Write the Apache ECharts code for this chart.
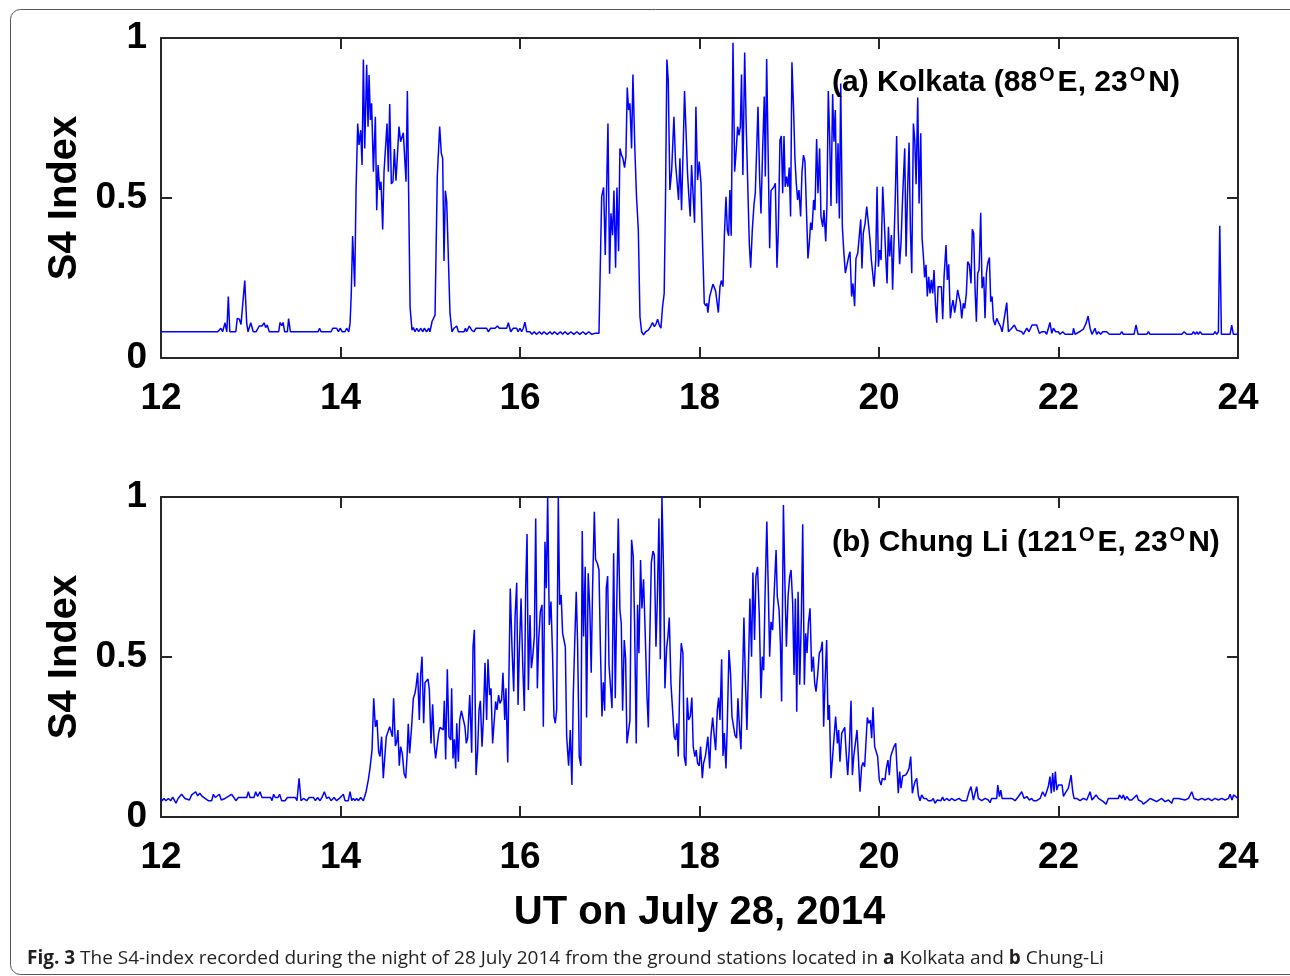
<!DOCTYPE html>
<html>
<head>
    <meta charset="utf-8">
    <script src="https://cdn.jsdelivr.net/npm/echarts@6/dist/echarts.min.js"></script>
    <style>
        body { margin: 0; background: #fff; }
    </style>
</head>
<body>
<div id="main" style="width: 1290px;height:976px;"></div>

<script type="text/javascript">
    // x ticks (UT hours) and y ticks
    var xTicks = [12, 14, 16, 18, 20, 22, 24];
    var yTicks = [0, 0.5, 1];

    // (a) Kolkata: minutes after 12:00 UT and S4 index
    var kolMin = [
        0,38,40,41.2,42.8,44,45,46,50,51,
        52.4,53.5,54.6,56,57.3,58.2,60,61.7,63.5,65.7,
        67.5,68.9,70,71,72.4,78.7,79.6,80.7,81.6,82.7,
        84.5,85.3,86.5,105,106,107,113.7,114.8,117.4,118.6,
        119.7,121.2,123,124.1,125.5,126.4,127.2,128.1,129.5,130.4,
        131.5,132.4,133.5,134.4,135.3,136.2,137.5,138.4,139.1,140,
        140.8,142,143.3,144.2,145.1,146.2,147.1,148.2,149.1,150.2,
        151.1,152,152.9,154,155.1,156,157.1,158,159.1,160.2,
        161.1,162,163.8,164.7,166.5,167.8,168.7,169.8,171,172.3,
        173.6,175,176,177.6,179,179.8,181.2,183.2,184.7,186.3,
        187.4,188.3,189.2,190.1,191,193.2,194.5,195.9,197.7,198.8,
        202.6,203.5,204.3,206.1,207.7,209.2,210.6,217.7,218.8,220.4,
        223.3,224.9,226.2,231.1,232.2,233.8,235.5,237.8,238.7,240,
        241.1,242.2,243.3,244.5,246.7,248,249.5,251,253,254.5,
        256,258,260,261.5,263,265,267,268.5,270,272,
        274,276,278,280,282,284,286,288,290,292.8,
        293.2,294.6,295.9,297,298.8,299.9,300.8,301.9,302.8,303.9,
        304.8,305.9,306.8,307.9,308.8,309.9,310.8,311.7,312.6,313.5,
        314.6,315.5,316.8,317.9,319.1,320.2,321.3,322.6,324,325.8,
        327.3,328.6,329.8,330.9,332,333.1,334.2,335.3,336.4,337.3,
        338.2,339.1,340.2,341.4,342,342.9,344,345.1,346,346.9,
        348,349.1,350,351.2,352,352.9,353.8,354.7,355.8,356.7,
        357.6,358.7,359.8,361,362.1,363.2,364.3,365,365.6,366.8,
        367.9,369,369.9,370.8,371.7,372.6,373.7,374.6,375.7,376.6,
        377.7,378.6,379.5,380.3,381.2,382.4,383.5,384.4,385.5,386.4,
        387.3,388.1,389,390.2,391.3,392.4,393.3,394.2,395.3,396.4,
        397.3,398.2,399.1,400.2,401.1,402.2,403.3,404,404.9,406,
        406.9,407.8,408.9,409.8,410.7,411.8,412.7,413.8,414.7,415.6,
        416.5,417.3,418.2,419.1,420,420.9,421.8,422.9,423.8,424.7,
        425.6,426.5,427.6,428.5,429.5,430.5,431.7,432.5,433.4,434.3,
        435.2,436.3,437.2,438.3,439.2,440.3,441.2,442.4,443.2,444.4,
        445.2,446.1,447,447.9,449,449.9,450.8,451.7,452.6,453.5,
        454.4,455.5,456.4,457.5,458.6,459.7,460.6,461.7,462.6,463.7,
        464.6,465.8,466.6,467.8,468.6,469.5,470.7,471.8,472.9,474,
        474.9,475.8,476.7,477.8,478.7,479.6,480.5,481.4,482.5,483.4,
        484.5,485.4,486.3,487.1,488.3,489.1,490,490.9,491.8,492.9,
        493.8,494.7,495.8,497.2,498.1,499,500.1,501,501.9,503,
        503.9,504.8,505.9,506.8,507.9,508.8,509.7,510.5,511.4,512.3,
        513.2,514.1,515,515.9,516.8,517.7,518.6,519.5,520.3,521.7,
        522.6,523.5,524.8,525.7,526.6,527.7,528.6,529.5,530.6,531.5,
        532.6,533.5,534.4,535.3,536.4,537.3,538.4,539.3,540.4,541.5,
        542.4,543.3,544.2,545.1,546,546.9,548,548.9,550,550.9,
        551.8,552.7,553.8,554.7,555.6,556.5,557.6,558.7,560,561.3,
        562.3,563.6,565.4,566.5,568.7,570.5,572.1,575.4,576.5,578.8,
        580.3,582.3,585.4,587.2,588.8,591,592.1,594.3,595.5,596.6,
        598.1,599.9,601,602.8,604.4,609.5,610,611.1,614,616.6,
        618.4,619.8,621.1,622.4,624.4,625.5,626.7,628.2,629.6,632.2,
        634,641.1,642.3,643.4,650.5,651.8,653.2,659,660.1,661.2,
        682.4,684,685.7,689.1,690.2,691.5,692.4,693.5,694.6,696,
        703.5,704.7,705.8,706.9,707.8,708.9,714.7,715.8,716.9,720
    ];
    var kolS4 = [
        0.082,0.082,0.093,0.082,0.110,0.082,0.192,0.082,0.082,0.124,
        0.121,0.105,0.110,0.242,0.108,0.082,0.110,0.082,0.082,0.100,
        0.100,0.110,0.095,0.103,0.082,0.082,0.111,0.101,0.111,0.082,
        0.082,0.123,0.082,0.082,0.093,0.082,0.082,0.093,0.093,0.082,
        0.093,0.082,0.082,0.093,0.082,0.108,0.202,0.381,0.223,0.525,
        0.733,0.666,0.712,0.603,0.933,0.655,0.916,0.723,0.884,0.744,
        0.796,0.582,0.754,0.462,0.603,0.525,0.551,0.402,0.582,0.577,
        0.733,0.582,0.794,0.544,0.551,0.653,0.554,0.629,0.723,0.676,
        0.671,0.704,0.551,0.834,0.160,0.087,0.095,0.082,0.093,0.082,
        0.093,0.082,0.093,0.082,0.093,0.082,0.114,0.134,0.567,0.723,
        0.640,0.624,0.303,0.523,0.489,0.140,0.082,0.093,0.100,0.082,
        0.082,0.093,0.082,0.100,0.087,0.082,0.093,0.093,0.082,0.093,
        0.093,0.100,0.093,0.093,0.110,0.082,0.093,0.093,0.082,0.093,
        0.082,0.093,0.112,0.082,0.082,0.074,0.082,0.074,0.082,0.074,
        0.082,0.074,0.082,0.074,0.082,0.074,0.082,0.074,0.082,0.074,
        0.082,0.074,0.082,0.074,0.082,0.074,0.082,0.074,0.077,0.077,
        0.082,0.504,0.533,0.322,0.733,0.263,0.452,0.384,0.523,0.282,
        0.533,0.334,0.655,0.634,0.624,0.595,0.629,0.845,0.775,0.796,
        0.655,0.886,0.650,0.504,0.400,0.129,0.082,0.072,0.082,0.087,
        0.098,0.111,0.098,0.106,0.121,0.103,0.093,0.160,0.202,0.504,
        0.933,0.869,0.525,0.587,0.593,0.754,0.608,0.546,0.494,0.624,
        0.462,0.660,0.834,0.681,0.577,0.504,0.442,0.603,0.504,0.423,
        0.785,0.556,0.614,0.546,0.348,0.171,0.163,0.171,0.142,0.192,
        0.192,0.231,0.231,0.209,0.213,0.142,0.223,0.242,0.223,0.379,
        0.504,0.400,0.382,0.525,0.382,0.985,0.582,0.640,0.723,0.696,
        0.723,0.886,0.572,0.955,0.712,0.515,0.358,0.282,0.400,0.478,
        0.515,0.515,0.785,0.561,0.452,0.650,0.817,0.567,0.934,0.608,
        0.343,0.523,0.525,0.535,0.546,0.282,0.400,0.681,0.694,0.515,
        0.694,0.535,0.567,0.535,0.595,0.442,0.924,0.775,0.624,0.546,
        0.494,0.525,0.442,0.580,0.634,0.614,0.614,0.311,0.358,0.423,
        0.400,0.494,0.462,0.684,0.515,0.655,0.442,0.410,0.462,0.364,
        0.478,0.834,0.692,0.475,0.825,0.676,0.775,0.483,0.671,0.436,
        0.858,0.410,0.337,0.265,0.265,0.317,0.332,0.192,0.233,0.162,
        0.311,0.327,0.332,0.433,0.280,0.390,0.421,0.473,0.473,0.369,
        0.306,0.306,0.223,0.306,0.535,0.285,0.337,0.306,0.535,0.442,
        0.317,0.233,0.410,0.317,0.384,0.213,0.358,0.504,0.694,0.400,
        0.293,0.358,0.504,0.655,0.317,0.504,0.673,0.400,0.265,0.733,
        0.681,0.543,0.814,0.483,0.702,0.374,0.317,0.252,0.291,0.192,
        0.254,0.202,0.244,0.202,0.275,0.171,0.110,0.223,0.223,0.223,
        0.121,0.254,0.353,0.244,0.293,0.124,0.160,0.181,0.142,0.171,
        0.213,0.192,0.173,0.124,0.171,0.155,0.202,0.301,0.291,0.233,
        0.402,0.390,0.218,0.113,0.265,0.275,0.454,0.218,0.254,0.124,
        0.265,0.296,0.314,0.176,0.192,0.119,0.103,0.124,0.110,0.098,
        0.082,0.087,0.173,0.082,0.093,0.103,0.087,0.082,0.074,0.093,
        0.082,0.103,0.103,0.077,0.082,0.082,0.074,0.111,0.077,0.093,
        0.082,0.082,0.074,0.082,0.074,0.074,0.093,0.074,0.082,0.090,
        0.108,0.131,0.093,0.074,0.093,0.074,0.082,0.074,0.082,0.082,
        0.074,0.074,0.082,0.074,0.074,0.103,0.074,0.074,0.082,0.074,
        0.074,0.082,0.074,0.074,0.082,0.074,0.082,0.074,0.082,0.074,
        0.074,0.082,0.074,0.082,0.413,0.074,0.074,0.103,0.074,0.074
    ];

    // (b) Chung Li: minutes after 12:00 UT and S4 index
    var chuMin = [
        0,0.7,2,3.3,4.9,6.5,7.8,9.1,10,11.4,
        13.8,16,19,20.5,23.2,24.5,25.9,27.2,29.4,31.6,
        33.9,35,36.3,39,40.3,42.8,47.2,50.1,51.7,57.3,
        58.4,59.5,62.2,63.3,64.6,66.2,67.5,73.3,74.2,75.3,
        76.4,78.2,79.3,80.7,82.9,84.5,89.8,90.9,92.3,93.6,
        95.2,97.4,99,101.9,103.2,104.7,106.3,107.9,109.2,110.8,
        112.3,113.7,115.7,117.4,119.2,121.9,123,125.2,126.4,127.5,
        128.6,129.7,130.8,131.9,133.5,135.3,137.1,138.6,139.7,141.1,
        142.2,143.3,144.4,145.5,146.4,147.5,148.6,149.8,150.6,151.8,
        152.9,154,154.7,155.5,156.7,157.6,158.4,159.3,160.2,161.3,
        162.5,163.6,164.5,165.3,166.2,167.4,168.7,169.8,170.5,171.6,
        172.7,173.6,174.5,175.6,176.5,177.6,178.5,179.4,180.5,181.6,
        182.7,183.6,184.7,185.6,186.5,187.6,188.7,189.4,190.3,191.4,
        192.5,193.7,194.3,195.2,196.1,197,197.7,198.8,199.7,200.8,
        202.1,203.2,204.1,205,206.4,207.7,208.6,209.5,210.6,211.7,
        212.6,213.5,214.6,215.5,216.6,217.7,218.6,219.7,220.6,221.7,
        222.8,223.7,224.6,225.7,226.6,227.7,228.6,229.8,230.6,231.8,
        232.6,233.5,234.7,235.8,236.7,237.8,238.7,239.5,240.7,241.8,
        242.9,243.8,244.7,245.6,246.7,247.6,248.5,249.6,250.5,251.6,
        252.5,253.6,254.7,255.6,256.7,257.6,258.5,259.6,260.7,261.8,
        262.7,263.6,264.5,265.6,266.5,267.5,268.5,269.4,270.3,271.2,
        272.5,273.6,274.7,275.6,276.5,277.6,278.5,279.6,280.7,281.6,
        282.5,283.6,284.5,285.6,286.7,287.6,288.5,289.7,290.5,291.7,
        292.8,293.7,294.8,295.7,296.6,297.7,298.6,299.5,300.6,301.5,
        302.6,303.7,304.8,305.7,306.8,307.7,308.6,309.7,310.6,311.5,
        312.6,313.5,314.6,315.7,316.6,317.7,318.6,319.5,320.6,321.5,
        322.6,323.7,324.9,325.8,326.6,327.8,328.9,329.8,330.9,331.8,
        332.9,333.8,334.9,336,336.9,338,338.9,339.8,340.9,342,
        343.1,344,344.9,345.8,346.9,347.8,348.9,349.8,350.9,351.8,
        352.7,353.8,354.9,355.8,356.9,357.8,358.7,359.8,360.7,361.9,
        362.7,363.9,364.7,365.6,366.8,367.6,368.8,369.9,370.8,371.9,
        372.8,373.7,374.8,375.7,376.6,377.7,378.6,379.7,380.8,381.7,
        382.8,383.7,384.8,385.7,386.8,387.7,388.6,389.7,390.6,391.7,
        392.6,393.7,394.8,395.7,396.8,397.7,398.8,400,401.1,402,
        402.9,403.8,405,406,406.9,407.8,408.9,410,411.2,412,
        413.2,414.1,414.9,416.1,417.2,418.1,419.2,420.3,421.2,422.3,
        423.2,424.1,425,425.9,427,428.1,429,430.1,431,431.9,
        432.8,433.9,435,436.1,437,437.9,439,440.1,441.2,442.1,
        443,443.9,445,445.9,446.8,447.9,449,449.9,451,452.2,
        453,453.9,455.1,456,457.1,458,459.1,460.2,461.3,462.2,
        463.1,464.2,465.3,466.2,467.3,468.4,469.3,470.4,471.3,472.2,
        473.1,474.2,475.1,476,477.1,478,479.1,480.2,481.4,482.2,
        483.1,484,484.9,486,486.9,487.8,488.9,490,491.2,492,
        492.9,493.8,494.7,495.8,496.9,497.8,498.9,500.1,501.2,502.3,
        503.2,504.1,505.2,506.3,507.4,508.5,509.9,511.5,513,515,
        516.3,517.4,519,520.3,521.4,522.5,523.6,525.2,527,528.5,
        530.7,533.5,535.3,538.6,540.2,541.5,543.1,544.2,545.3,546.4,
        547.6,548.7,550.9,553.1,554.2,555.3,558.7,559.4,560.5,561.4,
        562.3,564.3,565.4,568.7,571,573.2,575.4,577,578.8,580.5,
        582.1,583.2,585.4,587.7,589.4,591,592.1,593.2,594.3,595.2,
        596.1,597,597.9,598.8,599.9,601,602.4,603.3,604.4,605.5,
        606.6,607.5,608.4,609.5,610.4,612.2,614.4,616.6,618.9,621.1,
        622.4,623.3,625.1,626.7,627.8,630,631.8,633.3,636.7,640,
        640.7,642.3,643.4,644.5,645.6,647.4,649,652.3,653.4,655.6,
        656.7,658.9,661.2,663.4,665.6,669,670.1,671.2,673.5,675.7,
        676.8,680.2,684.6,686.9,689.1,690.6,693.5,695.8,698,700.2,
        702.4,704.7,706.9,709.1,711.3,713.6,714.7,716,717,720
    ];
    var chuS4 = [
        0.058,0.051,0.058,0.051,0.058,0.051,0.062,0.051,0.043,0.058,
        0.071,0.058,0.053,0.069,0.079,0.066,0.074,0.066,0.058,0.051,
        0.051,0.071,0.061,0.071,0.053,0.058,0.071,0.051,0.061,0.061,
        0.079,0.061,0.061,0.079,0.064,0.079,0.061,0.061,0.051,0.071,
        0.061,0.061,0.071,0.051,0.051,0.061,0.061,0.051,0.121,0.051,
        0.058,0.051,0.061,0.061,0.051,0.061,0.051,0.064,0.079,0.058,
        0.062,0.051,0.061,0.051,0.058,0.071,0.051,0.051,0.079,0.051,
        0.058,0.051,0.058,0.051,0.061,0.051,0.079,0.116,0.152,0.210,
        0.371,0.282,0.303,0.204,0.189,0.251,0.121,0.121,0.251,0.267,
        0.282,0.279,0.251,0.371,0.222,0.236,0.272,0.160,0.220,0.199,
        0.137,0.121,0.189,0.291,0.199,0.272,0.371,0.387,0.407,0.451,
        0.303,0.446,0.501,0.293,0.420,0.423,0.431,0.397,0.230,0.352,
        0.225,0.183,0.189,0.262,0.280,0.280,0.272,0.363,0.180,0.462,
        0.251,0.241,0.402,0.183,0.243,0.152,0.293,0.173,0.303,0.332,
        0.329,0.282,0.230,0.246,0.381,0.201,0.532,0.585,0.131,0.209,
        0.335,0.363,0.220,0.303,0.482,0.303,0.493,0.381,0.402,0.230,
        0.303,0.361,0.335,0.381,0.355,0.366,0.451,0.303,0.402,0.170,
        0.439,0.714,0.522,0.392,0.626,0.732,0.350,0.512,0.683,0.480,
        0.331,0.715,0.884,0.397,0.631,0.465,0.501,0.564,0.933,0.402,
        0.553,0.642,0.663,0.282,0.860,0.715,1.000,0.600,0.673,0.501,
        0.314,0.293,0.335,1.000,0.663,0.694,0.574,0.579,0.532,0.251,
        0.160,0.272,0.100,0.376,0.532,0.704,0.543,0.189,0.160,0.894,
        0.564,0.782,0.311,0.762,0.647,0.451,0.710,0.954,0.805,0.793,
        0.772,0.543,0.314,0.421,0.332,0.715,0.753,0.475,0.470,0.340,
        0.824,0.371,0.704,0.933,0.647,0.605,0.332,0.553,0.496,0.230,
        0.230,0.303,0.866,0.814,0.605,0.230,0.663,0.512,0.803,0.652,
        0.743,0.574,0.376,0.280,0.522,0.795,0.831,0.819,0.532,0.678,
        0.933,0.493,1.000,0.762,0.402,0.527,0.564,0.623,0.418,0.335,
        0.251,0.241,0.293,0.189,0.428,0.543,0.512,0.189,0.160,0.373,
        0.303,0.314,0.373,0.220,0.189,0.209,0.168,0.160,0.220,0.121,
        0.168,0.189,0.194,0.251,0.152,0.251,0.311,0.251,0.209,0.334,
        0.373,0.303,0.493,0.191,0.262,0.152,0.293,0.522,0.444,0.314,
        0.311,0.256,0.246,0.371,0.272,0.212,0.397,0.623,0.439,0.272,
        0.439,0.683,0.501,0.764,0.553,0.751,0.782,0.626,0.371,0.501,
        0.459,0.690,0.923,0.709,0.501,0.610,0.584,0.709,0.834,0.689,
        0.647,0.543,0.361,0.975,0.709,0.532,0.689,0.751,0.772,0.668,
        0.444,0.683,0.329,0.704,0.413,0.626,0.915,0.413,0.574,0.512,
        0.605,0.652,0.454,0.501,0.418,0.392,0.444,0.512,0.522,0.548,
        0.282,0.418,0.553,0.303,0.350,0.121,0.189,0.183,0.314,0.230,
        0.272,0.173,0.262,0.262,0.280,0.204,0.131,0.220,0.363,0.131,
        0.189,0.230,0.272,0.189,0.079,0.157,0.170,0.157,0.157,0.311,
        0.293,0.303,0.246,0.343,0.220,0.220,0.189,0.116,0.100,0.121,
        0.121,0.116,0.152,0.178,0.131,0.189,0.194,0.220,0.230,0.230,
        0.074,0.142,0.090,0.128,0.126,0.131,0.139,0.152,0.189,0.074,
        0.095,0.111,0.121,0.069,0.051,0.069,0.058,0.058,0.051,0.051,
        0.058,0.043,0.053,0.058,0.051,0.062,0.051,0.058,0.051,0.058,
        0.051,0.058,0.051,0.051,0.079,0.095,0.053,0.058,0.095,0.058,
        0.053,0.051,0.058,0.053,0.045,0.058,0.058,0.100,0.064,0.084,
        0.058,0.058,0.053,0.058,0.051,0.064,0.079,0.058,0.064,0.053,
        0.058,0.051,0.051,0.058,0.079,0.064,0.058,0.095,0.126,0.074,
        0.137,0.079,0.142,0.084,0.100,0.105,0.100,0.064,0.074,0.069,
        0.090,0.084,0.131,0.079,0.058,0.058,0.051,0.058,0.053,0.079,
        0.053,0.053,0.069,0.058,0.053,0.048,0.040,0.058,0.058,0.058,
        0.069,0.058,0.069,0.053,0.064,0.053,0.053,0.069,0.053,0.048,
        0.040,0.048,0.058,0.053,0.048,0.058,0.064,0.048,0.053,0.043,
        0.058,0.058,0.053,0.058,0.079,0.058,0.053,0.058,0.053,0.058,
        0.051,0.058,0.053,0.058,0.053,0.058,0.071,0.053,0.069,0.058
    ];

    var myChart = echarts.init(document.getElementById('main'));

    // minutes after 12 UT -> [hour, value]
    function toPairs(mins, vals) {
        var out = [];
        for (var i = 0; i < mins.length; i++) {
            out.push([12 + mins[i] / 60, vals[i]]);
        }
        return out;
    }

    var axisColor = '#262626';
    var font = 'Liberation Sans, Arial, sans-serif';
    var tickLabel = { fontSize: 37, fontWeight: 'bold', fontFamily: font, color: '#000' };

    function xAx(grid, pos, labels) {
        var ax = {
            type: 'value', gridIndex: grid, position: pos,
            min: xTicks[0], max: xTicks[xTicks.length - 1], interval: 2,
            axisLine: { show: true, onZero: false, lineStyle: { color: axisColor, width: 2 } },
            axisTick: { show: true, inside: true, length: 11, lineStyle: { color: axisColor, width: 2 } },
            axisLabel: Object.assign({ show: labels, margin: 22 }, tickLabel),
            splitLine: { show: false }
        };
        return ax;
    }
    function yAx(grid, pos, labels) {
        return {
            type: 'value', gridIndex: grid, position: pos,
            min: yTicks[0], max: yTicks[yTicks.length - 1], interval: 0.5,
            axisLine: { show: true, onZero: false, lineStyle: { color: axisColor, width: 2 } },
            axisTick: { show: true, inside: true, length: 11, lineStyle: { color: axisColor, width: 2 } },
            axisLabel: Object.assign({ show: labels, margin: 14 }, tickLabel),
            splitLine: { show: false },
            name: labels ? 'S4 Index' : '',
            nameLocation: 'middle',
            nameGap: 75,
            nameRotate: 90,
            nameTextStyle: { fontSize: 40, fontWeight: 'bold', fontFamily: font, color: '#000' }
        };
    }

    var xAxes = [xAx(0, 'bottom', true), xAx(0, 'top', false), xAx(1, 'bottom', true), xAx(1, 'top', false)];
    xAxes[2].name = 'UT on July 28, 2014';
    xAxes[2].nameLocation = 'middle';
    xAxes[2].nameGap = 76;
    xAxes[2].nameTextStyle = { fontSize: 40, fontWeight: 'bold', fontFamily: font, color: '#000' };

    var rich = {
        t: { fontSize: 30, fontWeight: 'bold', fontFamily: font, color: '#000', lineHeight: 35 },
        s: { fontSize: 20, fontWeight: 'bold', fontFamily: font, color: '#000', lineHeight: 20, verticalAlign: 'top', padding: [0, 3, 0, 2] }
    };

    var option = {
        animation: false,
        backgroundColor: '#fff',
        title: [
            { text: '{t|(a) Kolkata (88}{s|O}{t|E, 23}{s|O}{t|N)}', left: 832, top: 65, padding: 0,
              textStyle: { rich: rich } },
            { text: '{t|(b) Chung Li (121}{s|O}{t|E, 23}{s|O}{t|N)}', left: 832, top: 525, padding: 0,
              textStyle: { rich: rich } }
        ],
        grid: [
            { left: 161, top: 38, width: 1077, height: 320 },
            { left: 161, top: 497, width: 1077, height: 320 }
        ],
        xAxis: xAxes,
        yAxis: [yAx(0, 'left', true), yAx(0, 'right', false), yAx(1, 'left', true), yAx(1, 'right', false)],
        series: [
            { name: 'Kolkata', type: 'line', xAxisIndex: 0, yAxisIndex: 0, showSymbol: false, symbol: 'none',
              lineStyle: { color: '#0000ff', width: 1.5 }, data: toPairs(kolMin, kolS4) },
            { name: 'Chung Li', type: 'line', xAxisIndex: 2, yAxisIndex: 2, showSymbol: false, symbol: 'none',
              lineStyle: { color: '#0000ff', width: 1.5 }, data: toPairs(chuMin, chuS4) }
        ],
        graphic: [
            { type: 'rect', shape: { x: 10.5, y: 9.5, width: 1290, height: 965, r: 10 },
              style: { fill: null, stroke: '#555', lineWidth: 1 }, silent: true },
            { type: 'text', left: 27, top: 949,
              style: {
                  text: '{b|Fig. 3} The S4-index recorded during the night of 28 July 2014 from the ground stations located in {b|a} Kolkata and {b|b} Chung-Li',
                  font: '19px "Open Sans", sans-serif', fill: '#231f20',
                  rich: { b: { fontWeight: 'bold', fontSize: 19, fontFamily: 'Open Sans', fill: '#231f20' } }
              } }
        ]
    };

    myChart.setOption(option);
</script>
</body>
</html>
